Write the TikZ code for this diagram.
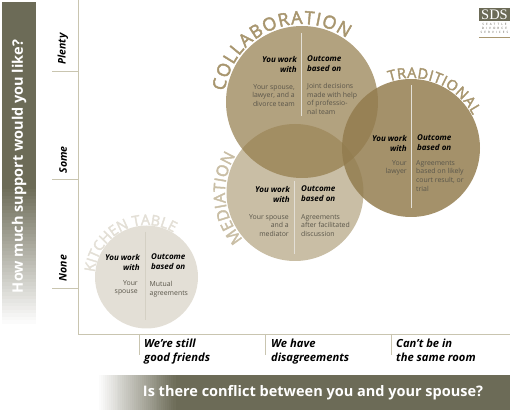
\documentclass[tikz,border=0pt]{standalone}
\usepackage{fontspec}
\usepackage{xcolor}
\usepackage{tikz}
\usetikzlibrary{decorations.text, positioning}
\setmainfont{Open Sans}
\newfontfamily\logoserif{Liberation Serif}
\newfontfamily\logosans[LetterSpace=70]{Open Sans}
\newfontfamily\arcfont[FakeBold=2.4]{Open Sans}
\definecolor{sdsolive}{HTML}{6C6B57}
\definecolor{sdsaxis}{HTML}{C9C5B0}
\definecolor{sdstan}{HTML}{A8966F}
\definecolor{collabfill}{HTML}{927A48}
\definecolor{tradfill}{HTML}{927C4E}
\definecolor{medfill}{HTML}{C9BEA5}
\definecolor{kitchenfill}{HTML}{E3DFD6}
\definecolor{kitchenline}{HTML}{D4D0C4}
\definecolor{bodygrey}{HTML}{5A564A}

\begin{document}
\begin{tikzpicture}[
    x=1pt, y=1pt,
    disc/.style={circle, inner sep=0pt, minimum size=#1},
    axisline/.style={draw=sdsaxis, line width=0.7pt},
    divider/.style={draw=kitchenfill, line width=0.9pt},
    head/.style={inner sep=0pt, font=\fontsize{8}{10}\selectfont\bfseries\itshape, text=black},
    headl/.style={head, anchor=north east, align=right},
    headr/.style={head, anchor=north west, align=left},
    body/.style={inner sep=0pt, font=\fontsize{6.9}{8.7}\selectfont, text=bodygrey},
    bodyl/.style={body, anchor=north east, align=right},
    bodyr/.style={body, anchor=north west, align=left},
    ylab/.style={rotate=90, inner sep=0pt, font=\fontsize{10.5}{12}\selectfont\bfseries\itshape},
    xlab/.style={anchor=north west, align=left, inner sep=0pt, font=\fontsize{11.2}{14}\selectfont\bfseries\itshape},
    bartext/.style={inner sep=0pt, text=white, font=\fontsize{14.5}{16}\selectfont\bfseries},
    arctext/.style n args={3}{decorate, decoration={text along path, text align={fit to path},
        text={|\arcfont\fontsize{#1}{#1}\selectfont\color{#2}|#3}}}
]
    \useasboundingbox (0,0) rectangle (512,412);

    % bars with the two questions, faded in strips
    \fill[sdsolive] (2,410) rectangle (36,222);
    \foreach \i in {0,...,39} {
        \pgfmathsetmacro\fadepct{2.5*\i}
        \fill[sdsolive!\fadepct!white] (2,85+3.45*\i) rectangle (36,223);
    }
    \fill[sdsolive] (175,37) rectangle (510,2);
    \foreach \i in {0,...,39} {
        \pgfmathsetmacro\fadepct{2.5*\i}
        \fill[sdsolive!\fadepct!white] (97+1.95*\i,37) rectangle (175.5,2);
    }
    \node[bartext, rotate=90] (support) at (19,245.5) {How much support would you like?};
    \node[bartext] (conflict) at (313,19) {Is there conflict between you and your spouse?};

    % axes and ticks
    \draw[axisline] (78,412) -- (78,78) -- (510,78);
    \foreach \y in {341, 233, 124}
        \draw[axisline] (52,\y) -- (78,\y);
    \foreach \x in {139, 265, 391}
        \draw[axisline] (\x,78) -- (\x,57);

    \node[ylab] (plenty) at (63,363) {Plenty};
    \node[ylab] (some) at (63,252) {Some};
    \node[ylab] (none) at (63,144) {None};
    \node[xlab] (friends) at (144,73) {We’re still\\good friends};
    \node[xlab] (disagree) at (271,73) {We have\\disagreements};
    \node[xlab] (sameroom) at (396,73) {Can’t be in\\the same room};

    % circles
    \node[disc=137pt, fill=medfill] (med) at (295,219.5) {};
    \node[disc=152pt, fill=collabfill, fill opacity=0.7] (collab) at (302,310) {};
    \node[disc=138pt, fill=tradfill, fill opacity=0.84] (trad) at (411,264) {};
    \node[disc=103pt, fill=kitchenfill] (kitchen) at (146.5,135) {};

    % names round the circles
    \path[arctext={18}{sdstan}{COLLABORATION}] ([shift={(172:78)}]collab.center) arc[start angle=172, end angle=55, radius=78];
    \path[arctext={14.5}{sdstan}{TRADITIONAL}] ([shift={(108:70)}]trad.center) arc[start angle=108, end angle=28, radius=70];
    \path[arctext={16}{medfill}{MEDIATION}] ([shift={(222:70)}]med.center) arc[start angle=222, end angle=148, radius=70];
    \path[arctext={14.5}{kitchenfill}{KITCHEN TABLE}] ([shift={(175:52)}]kitchen.center) arc[start angle=175, end angle=60, radius=52];

    % dividers
    \foreach \x/\a/\b in {301/379/296, 411/327/204, 294.5/231/158}
        \draw[divider] (\x,\a) -- (\x,\b);
    \draw[draw=kitchenline, line width=0.9pt] (145,180) -- (145,92);

    % collaboration
    \node[headl] (collabwho) at (297,356) {You work\\with};
    \node[headr] (collabhow) at (307,356) {Outcome\\based on};
    \node[bodyl] (collabteam) at (295,328) {Your spouse,\\lawyer, and a\\divorce team};
    \node[bodyr] (collabdeal) at (307,329) {Joint decisions\\made with help\\of professio-\\nal team};

    % traditional
    \node[headl] (tradwho) at (407,277) {You work\\with};
    \node[headr] (tradhow) at (417,277) {Outcome\\based on};
    \node[bodyl] (tradteam) at (407,252) {Your\\lawyer};
    \node[bodyr] (traddeal) at (416,252) {Agreements\\based on likely\\court result, or\\trial};

    % mediation
    \node[headl] (medwho) at (290,226) {You work\\with};
    \node[headr] (medhow) at (301,226) {Outcome\\based on};
    \node[bodyl] (medteam) at (289,198) {Your spouse\\and a\\mediator};
    \node[bodyr] (meddeal) at (301,198) {Agreements\\after facilitated\\discussion};

    % kitchen table
    \node[headl] (kitchenwho) at (140,158) {You work\\with};
    \node[headr] (kitchenhow) at (151,158) {Outcome\\based on};
    \node[bodyl] (kitchenteam) at (138,132) {Your\\spouse};
    \node[bodyr] (kitchendeal) at (149.5,131) {Mutual\\agreements};

    % logo
    \node[fill=sdsolive, text=white, inner sep=0pt, minimum width=31pt, minimum height=13pt,
        font=\fontsize{14.5}{14.5}\selectfont\logoserif] (logo) at (494.5,397.5) {SDS};
    \node[below=1.5pt of logo.south, inner sep=0pt, align=center, text=bodygrey,
        font=\fontsize{3}{4}\selectfont\logosans] (logoname) {SEATTLE\\DIVORCE\\SERVICES};
    \draw[draw=sdstan, line width=1pt] (logo.west |- 0,374) -- (logo.east |- 0,374);
\end{tikzpicture}
\end{document}
